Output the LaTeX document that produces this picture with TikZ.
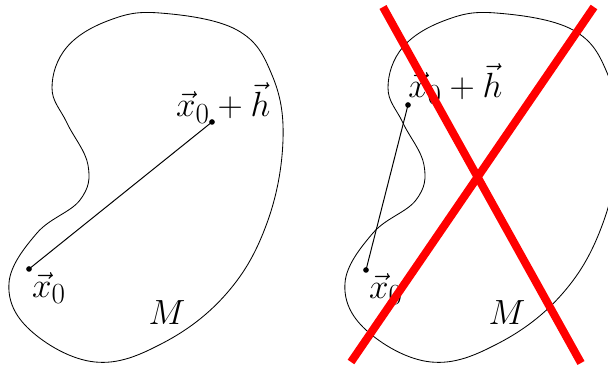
\documentclass[tikz,border=0pt]{standalone}
\usepackage{amsmath}
\tikzset{
    blob/.style={line width=0.6pt},
    seg/.style={line width=0.7pt},
    lbl/.style={font=\Huge, inner sep=1pt},
    cross/.style={red, line width=5.7pt},
}
% outline of the set M (pixel units)
\newcommand{\blobpath}{plot[smooth cycle, tension=0.65] coordinates {
    (160,13) (237,30) (272,75) (283,140) (267,223) (227,293) (163,343)
    (95,362) (30,330) (9,283) (37,233) (80,200) (88,165) (67,123)
    (52,88) (67,47) (110,20)}}
\begin{document}
\begin{tikzpicture}[x=0.025cm,y=-0.025cm]
    \clip (0,0) rectangle (608,367);

    % Left: the segment stays inside M
    \draw[blob] \blobpath;
    \coordinate (A) at (29,269);
    \coordinate (B) at (212,122);
    \draw[seg] (A) -- (B);
    \fill (A) circle (2pt);
    \fill (B) circle (2pt);
    \node[lbl, below right, inner sep=2pt] (lA) at (A) {$\vec{x}_0$};
    \node[lbl, above, xshift=8pt, yshift=-2pt] (lB) at (B) {$\vec{x}_0+\vec{h}$};
    \node[lbl] (lM) at (167,313) {$M$};

    % Right: the segment leaves M
    \begin{scope}[xshift=336*0.025cm]
        \draw[blob] \blobpath;
    \end{scope}
    \coordinate (C) at (366,270);
    \coordinate (D) at (408,105);
    \draw[seg] (C) -- (D);
    \fill (C) circle (2pt);
    \fill (D) circle (2pt);
    \node[lbl, below right, inner sep=2pt] (lC) at (C) {$\vec{x}_0$};
    \node[lbl, above right, inner sep=0pt] (lD) at (D) {$\vec{x}_0+\vec{h}$};
    \node[lbl] (lN) at (507,313) {$M$};

    % Cross it out
    \coordinate (P1) at (383,7);
    \coordinate (P2) at (581,363);
    \coordinate (P3) at (594,7);
    \coordinate (P4) at (351,362);
    \draw[cross] (P1) -- (P2);
    \draw[cross] (P3) -- (P4);
\end{tikzpicture}
\end{document}
